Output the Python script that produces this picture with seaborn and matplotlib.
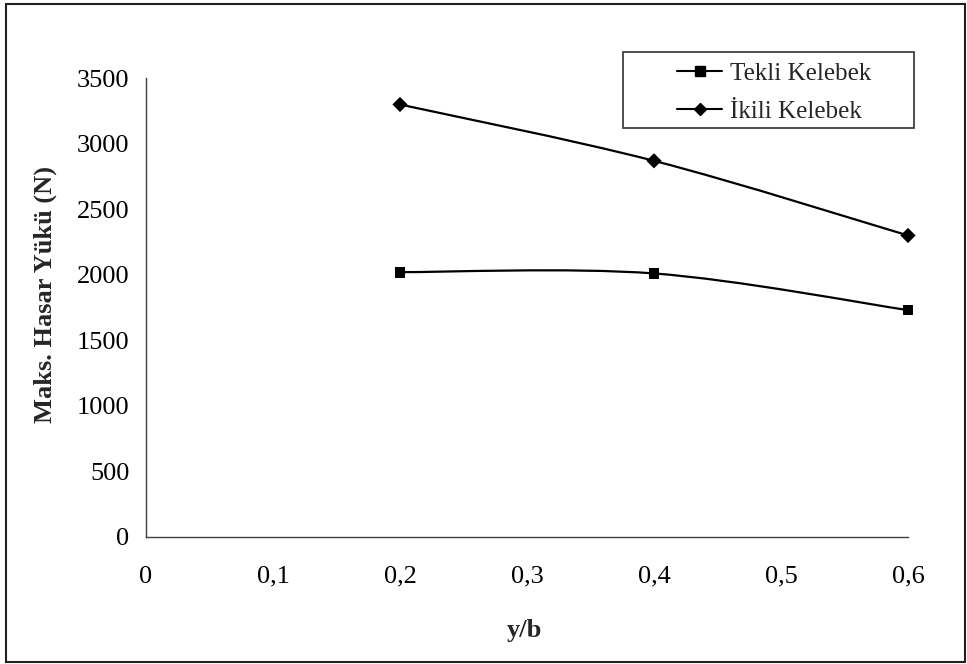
import numpy as np
import pandas as pd
import seaborn as sns
import matplotlib
matplotlib.use("Agg")
import matplotlib.pyplot as plt
from matplotlib.path import Path
from matplotlib.patches import PathPatch, Rectangle
from matplotlib.lines import Line2D

# Data
y_over_b = [0.2, 0.4, 0.6]
tekli = [2020, 2010, 1730]
ikili = [3300, 2870, 2300]
series_names = ["Tekli Kelebek", "İkili Kelebek"]
x_ticks = [0, 0.1, 0.2, 0.3, 0.4, 0.5, 0.6]
x_tick_labels = ["0", "0,1", "0,2", "0,3", "0,4", "0,5", "0,6"]
y_ticks = [0, 500, 1000, 1500, 2000, 2500, 3000, 3500]

sns.set_theme(style="white")
plt.rcParams["font.family"] = ["Liberation Serif", "DejaVu Serif"]

W, H = 967, 664
AX_L, AX_R, AX_T, AX_B = 146, 908, 78.3, 536.7
fig = plt.figure(figsize=(W / 100, H / 100), dpi=100)
ax = fig.add_axes([AX_L / W, 1 - AX_B / H, (AX_R - AX_L) / W, (AX_B - AX_T) / H])

AXIS_GREY = "#404040"


def smooth_path(xs, ys):
    """Cubic Bezier path through the points (Catmull-Rom style control points)."""
    pts = np.column_stack([xs, ys]).astype(float)
    n = len(pts)
    verts = [pts[0]]
    codes = [Path.MOVETO]
    for i in range(n - 1):
        p0 = pts[max(i - 1, 0)]
        p1 = pts[i]
        p2 = pts[i + 1]
        p3 = pts[min(i + 2, n - 1)]
        c1 = p1 + (p2 - p0) / 6.0
        c2 = p2 - (p3 - p1) / 6.0
        verts += [c1, c2, p2]
        codes += [Path.CURVE4] * 3
    return Path(verts, codes)


df = pd.DataFrame({
    "y/b": y_over_b * 2,
    "load": tekli + ikili,
    "series": [series_names[0]] * 3 + [series_names[1]] * 3,
})

for vals in (tekli, ikili):
    ax.add_patch(PathPatch(smooth_path(y_over_b, vals), facecolor="none",
                           edgecolor="black", lw=1.6, zorder=2, clip_on=False))

sns.scatterplot(data=df, x="y/b", y="load", hue="series", style="series",
                markers={series_names[0]: "s", series_names[1]: "D"},
                palette={series_names[0]: "black", series_names[1]: "black"},
                s=60, linewidth=0, ax=ax, legend=False, zorder=3, clip_on=False)

ax.set_xlim(0, 0.6)
ax.set_ylim(0, 3500)
ax.set_xticks(x_ticks)
ax.set_xticklabels(x_tick_labels)
ax.set_yticks(y_ticks)
ax.set_yticklabels([str(v) for v in y_ticks])

for side in ("top", "right"):
    ax.spines[side].set_visible(False)
for side in ("left", "bottom"):
    ax.spines[side].set_color(AXIS_GREY)
    ax.spines[side].set_linewidth(1.0)

ax.tick_params(axis="both", which="major", direction="out", length=6, width=1,
               color=AXIS_GREY, labelsize=19, labelcolor="black")
ax.tick_params(axis="x", pad=15)
ax.tick_params(axis="y", pad=6)

ax.set_xlabel("y/b", fontsize=19, fontweight="bold")
ax.set_ylabel("Maks. Hasar Yükü (N)", fontsize=19, fontweight="bold")
ax.xaxis.label.set_va("center")
ax.yaxis.label.set_va("center")
ax.xaxis.set_label_coords((524 - AX_L) / (AX_R - AX_L), (AX_B - 630) / (AX_B - AX_T))
ax.yaxis.set_label_coords((45 - AX_L) / (AX_R - AX_L), (AX_B - 295) / (AX_B - AX_T))

handles = [
    Line2D([], [], color="black", lw=1.5, marker="s", markersize=7),
    Line2D([], [], color="black", lw=1.5, marker="D", markersize=6.5),
]
leg = fig.legend(handles, series_names, loc="center left",
                 bbox_to_anchor=(677 / W, 1 - 92.5 / H), fontsize=18,
                 frameon=False, handlelength=1.8, handletextpad=0.32,
                 borderpad=0, labelspacing=0.6, borderaxespad=0)

# Legend frame
fig.patches.append(Rectangle((623 / W, 1 - 128 / H), (914 - 623) / W, (128 - 52) / H,
                             transform=fig.transFigure, fill=False,
                             edgecolor=AXIS_GREY, lw=1.3))

# Outer chart border
fig.patches.append(Rectangle((6 / W, 2 / H), 959 / W, 658 / H,
                             transform=fig.transFigure, fill=False,
                             edgecolor="#202020", lw=1.5))

fig.savefig("out.png", dpi=100)
